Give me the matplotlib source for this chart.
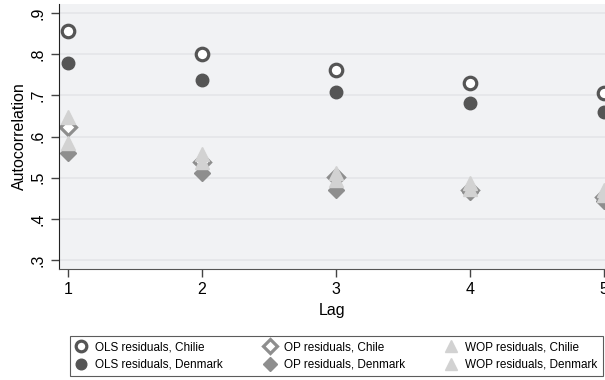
import matplotlib.pyplot as plt

plt.rcParams['font.family'] = ['Liberation Sans', 'DejaVu Sans']

lags = [1, 2, 3, 4, 5]

ols_chile = [0.857, 0.800, 0.761, 0.730, 0.705]
ols_denmark = [0.778, 0.737, 0.709, 0.682, 0.660]
op_chile = [0.623, 0.538, 0.502, 0.470, 0.452]
op_denmark = [0.560, 0.511, 0.470, 0.466, 0.443]
wop_chile = [0.648, 0.558, 0.512, 0.486, 0.470]
wop_denmark = [0.584, 0.538, 0.495, 0.472, 0.458]

dark = '#555555'
mid = '#8e8e8e'
light = '#d2d2d2'

fig = plt.figure(figsize=(6.05, 3.8), dpi=100)
ax = fig.add_axes([59 / 605, 1 - 269 / 380, 546 / 605, 265 / 380])
ax.set_facecolor('#f1f2f4')

ax.plot(lags, ols_chile, 'o', ls='none', ms=9, mfc='white', mec=dark, mew=2.3,
        label='OLS residuals, Chilie')
ax.plot(lags, ols_denmark, 'o', ls='none', ms=9, mfc=dark, mec=dark,
        label='OLS residuals, Denmark')
ax.plot(lags, op_chile, 'D', ls='none', ms=8, mfc='white', mec=mid, mew=2.3,
        label='OP residuals, Chile')
ax.plot(lags, op_denmark, 'D', ls='none', ms=8, mfc=mid, mec=mid,
        label='OP residuals, Denmark')
ax.plot(lags, wop_chile, '^', ls='none', ms=10, mfc=light, mec=light,
        label='WOP residuals, Chilie')
ax.plot(lags, wop_denmark, '^', ls='none', ms=10, mfc=light, mec=light,
        label='WOP residuals, Denmark')

ax.set_xlim(0.933, 5.008)
ax.set_ylim(0.278, 0.922)
ax.set_xticks(lags)
yt = [0.3, 0.4, 0.5, 0.6, 0.7, 0.8, 0.9]
ax.set_yticks(yt)
ax.set_yticklabels(['.3', '.4', '.5', '.6', '.7', '.8', '.9'], rotation=90, va='center')
ax.grid(axis='y', color='#e4e5e8', lw=1.2)
ax.set_axisbelow(True)
ax.tick_params(labelsize=11.5, length=6, width=1, color='#444444')
ax.spines['top'].set_visible(False)
ax.spines['right'].set_visible(False)
ax.spines['left'].set_color('#222222')
ax.spines['bottom'].set_color('#555555')
ax.set_xlabel('Lag', fontsize=11.5, labelpad=4)
ax.set_ylabel('Autocorrelation', fontsize=11.5, labelpad=3)

handles, labels = ax.get_legend_handles_labels()
leg = fig.legend(handles, labels,
                 loc='lower left', bbox_to_anchor=(70 / 605, 4 / 380, 533 / 605, 46 / 380),
                 mode='expand', ncol=3, fontsize=8.5, frameon=True, fancybox=False,
                 handletextpad=0.7, borderaxespad=0, labelspacing=0.45,
                 handlelength=1.0, borderpad=0.45, markerscale=0.85)
leg.get_frame().set_edgecolor('#333333')
leg.get_frame().set_linewidth(0.8)

fig.savefig('out.png', dpi=100)
